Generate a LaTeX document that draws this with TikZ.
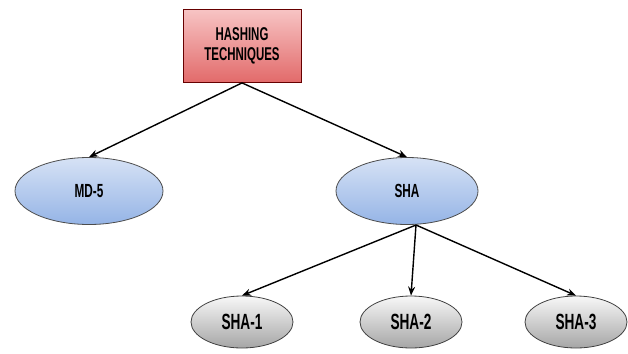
\documentclass[tikz,border=0pt]{standalone}
\usepackage{fontspec}
\setmainfont{Liberation Sans}[FakeStretch=0.62]
\usetikzlibrary{shapes.geometric,arrows.meta}
\definecolor{boxtop}{HTML}{F7C4C4}
\definecolor{boxbot}{HTML}{E26A6A}
\definecolor{blutop}{HTML}{D6E2F5}
\definecolor{blubot}{HTML}{95B4E6}
\tikzset{
  hashbox/.style={draw=red!40!black, line width=0.8pt, top color=boxtop, bottom color=boxbot,
    minimum width=118pt, minimum height=73pt, align=center, font=\bfseries\fontsize{18.5}{20}\selectfont},
  blueell/.style={ellipse, draw=black!70, line width=0.8pt, top color=blutop, bottom color=blubot,
    inner sep=0pt, minimum width=142pt, minimum height=67pt, font=\bfseries\fontsize{19}{20}\selectfont},
  grayell/.style={ellipse, draw=black!75, line width=0.8pt, top color=black!3, bottom color=black!35,
    inner sep=0pt, minimum width=102pt, minimum height=52pt, font=\bfseries\fontsize{22}{23}\selectfont},
  arr/.style={-{Stealth[length=9pt,width=7pt]}, line width=1.4pt}
}
\begin{document}
\begin{tikzpicture}[x=1pt,y=-1pt]
\useasboundingbox (0,0) rectangle (628,353);
\node[hashbox] (hash) at (242,46) {HASHING\\TECHNIQUES};
\node[blueell, minimum width=148pt] (md5) at (89,191) {MD-5};
\node[blueell] (sha) at (407,191) {SHA};
\node[grayell] (sha1) at (242,322) {SHA-1};
\node[grayell] (sha2) at (411,322) {SHA-2};
\node[grayell] (sha3) at (576,322) {SHA-3};
\coordinate (shabot) at (416,225);
% arrows
\draw[arr] (hash.south) -- (md5.north);
\draw[arr] (hash.south) -- (sha.north);
\draw[arr] (shabot) -- (sha1.north);
\draw[arr] (shabot) -- (sha2.north);
\draw[arr] (shabot) -- (sha3.north);
\end{tikzpicture}
\end{document}
